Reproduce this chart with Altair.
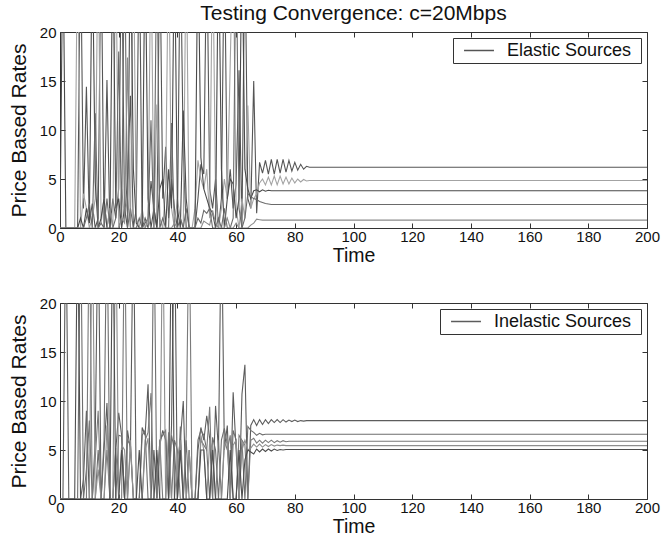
import altair as alt
import pandas as pd

FONT = "Liberation Sans"
TITLE = "Testing Convergence: c=20Mbps"
X_TICKS = [0, 20, 40, 60, 80, 100, 120, 140, 160, 180, 200]
Y_TICKS = [0, 5, 10, 15, 20]
END_T = 200

# Elastic sources (one value per time step; the last value is held until END_T)
E1 = [0, 0, 0, 0, 0, 0, 0, 30, 2, 14.4,
      0.5, 2.5, 0, 1, 30, 0, 15.1, 0, 3, 1,
      4, 30, 1, 5, 13.5, 0, 2, 30, 0, 1,
      0, 4.8, 2, 0, 30, 3, 8.3, 1, 5, 2,
      0, 30, 7.5, 0, 0, 0, 0, 3, 6.5, 5.5,
      30, 4, 2, 5, 0, 3, 30, 3, 6, 2,
      4.5, 16.1, 0, 30, 3, 2, 15, 1.5,
      6.7, 5.6, 6.9, 5.5, 7.0, 5.5, 7.0, 5.6, 7.0, 5.7,
      6.9, 5.8, 6.7, 5.9, 6.5, 6.0, 6.3, 6.2,
      6.2]
E2 = [0, 0, 0, 0, 0, 0, 30, 0, 3.5, 2,
      0, 1, 3, 30, 0.5, 3, 0, 2, 0, 30,
      0, 4, 1, 3, 0, 30, 1, 0, 2, 0,
      0.5, 30, 0, 12.6, 1, 0, 4, 30, 2, 0,
      3, 1, 0, 30, 0, 0, 2, 6.9, 5, 4,
      6, 1, 30, 3.5, 0, 2, 5, 3, 16.8, 30,
      2, 0, 3, 1, 12.5, 2, 3, 3.5,
      4.6, 5.0, 4.4, 5.2, 4.4, 5.3, 4.4, 5.3, 4.5, 5.2,
      4.5, 5.1, 4.6, 5.0, 4.7, 4.95, 4.8, 4.85,
      4.85]
E3 = [0, 30, 0, 0, 0, 0, 0, 1, 0, 2,
      0.5, 30, 4.7, 0, 1, 3, 0, 0, 30, 2,
      3, 0, 2, 0, 30, 6, 0.5, 0, 0, 30,
      3, 0, 2, 0, 4, 5, 0, 6, 2, 30,
      2, 0, 12, 3, 0, 0, 0, 30, 7.2, 4,
      3, 2, 1.5, 0, 30, 6, 0, 3, 5, 4.5,
      1, 3, 30, 6, 4, 3, 3.8, 3.9,
      3.7, 3.9, 3.75, 3.85, 3.8,
      3.8]
E4 = [0, 0, 0, 0, 0, 0, 0, 0, 0, 1,
      2.5, 0, 11.7, 0, 0.5, 0, 3, 0, 0, 1,
      18, 0.5, 30, 0, 2, 0, 0, 1, 0, 0.5,
      1, 11, 0, 30, 0, 1, 0, 0, 10.7, 0,
      0, 1, 0, 2, 0, 0, 0, 1, 0.5, 1.8,
      1.5, 2, 0, 0, 1, 0, 2, 0, 0, 1,
      30, 2, 0, 1, 3.5, 3.2, 3.0, 2.9,
      2.7, 2.6, 2.5, 2.45, 2.4,
      2.4]
E5 = [0, 0, 0, 0, 0, 0, 0, 0, 0, 0,
      0, 0, 0, 0, 0, 0, 0, 2, 0, 0,
      0, 1, 0.5, 17.4, 0, 0, 0, 0, 0, 0,
      1, 0, 0, 0, 0, 0, 0, 0, 0, 0.5,
      0, 0, 0, 0, 0, 0, 0, 0, 0, 0.7,
      0.5, 0.3, 1.8, 0.5, 0, 0, 0, 1, 0, 0,
      0.5, 0, 0, 0, 0, 0.3, 0.5, 0.9,
      0.85, 0.8,
      0.8]

# Inelastic sources
I1 = [0, 0, 30, 0, 0, 0, 0, 0, 2, 9,
      0, 0, 6, 30, 0, 5, 9.8, 0, 0, 5,
      8.8, 6.5, 0, 7, 5, 30, 0, 0, 7.3, 6.5,
      11.7, 0, 5, 0, 5.5, 7, 6, 0, 7.5, 30,
      0, 6, 10, 0, 5, 0, 0, 5, 7.3, 6,
      8.5, 6.2, 0, 9.5, 5, 30, 5, 7.5, 0, 10.9,
      5, 0, 10.7, 13.7, 0, 7.5, 8.1, 7.5, 8.1, 7.6,
      8.1, 7.7, 8.1, 7.8, 8.1, 7.8, 8.1, 7.85, 8.05, 7.9,
      8.05, 7.9, 8.0, 7.95, 8.0,
      8.0]
I2 = [0, 0, 0, 0, 0, 0, 0, 30, 0, 3,
      8, 0, 0, 5, 0, 6, 30, 0, 0, 0,
      6.5, 6.4, 0, 6, 5.5, 0, 0, 0, 6.5, 7,
      0, 0, 30, 0, 6, 6.5, 7, 0, 6.5, 5,
      0, 7.4, 0, 6, 0, 0, 0, 6, 7, 6.5,
      5, 0, 6.3, 5, 0, 6, 7.2, 5.5, 0, 7,
      6, 0, 6, 0, 7.4, 7.0, 6.8, 6.5, 6.7, 6.55,
      6.6,
      6.6]
I3 = [0, 0, 0, 0, 0, 0, 0, 0, 0, 0,
      30, 0, 4, 9, 0, 0, 5, 0, 0, 5.2,
      0, 0, 30, 0, 5.5, 0, 0, 0, 0, 6,
      6.8, 10.8, 0, 0, 6, 0, 0, 6.2, 0, 6,
      5, 0, 0, 6.5, 30, 0, 0, 0, 6, 5.5,
      5, 9.4, 0, 0, 6, 0, 6, 5, 6.5, 0,
      0, 6.5, 6, 5.5, 0, 6.0, 6.2, 5.7, 6.0, 5.7,
      6.0, 5.75, 6.0, 5.75, 5.95, 5.8, 5.95, 5.85, 5.9,
      5.9]
I4 = [0, 0, 0, 0, 0, 0, 0, 0, 0, 0,
      0, 30, 0, 3, 0, 0, 7.5, 0, 0, 30,
      0, 5.5, 5, 0, 6, 0, 0, 0, 0, 5,
      6.2, 0, 0, 0, 0, 30, 0, 6.8, 0, 0,
      4, 6, 0, 0, 5, 0, 0, 0, 6.5, 5,
      0, 6, 5, 0, 0, 0, 5.5, 6, 0, 5.5,
      6, 0, 5, 6, 5, 5.2, 5.6, 5.3, 5.6, 5.3,
      5.55, 5.35, 5.55, 5.4, 5.5, 5.45, 5.5, 5.45,
      5.45]
I5 = [0, 0, 0, 0, 0, 0, 30, 0, 0, 0,
      0, 0, 0, 0, 0, 0, 0, 0, 30, 0,
      0, 5, 0, 0, 0, 0, 0, 5, 0, 0,
      0, 0, 0, 5, 0, 0, 0, 0, 30, 0,
      0, 5, 0, 0, 0, 0, 0, 0, 5, 5,
      0, 0, 5, 0, 0, 0, 0, 0, 5, 0,
      0, 5, 0, 4, 5, 4.8, 4.6, 5.1, 4.8, 5.1,
      4.85, 5.1, 4.9, 5.1, 4.95, 5.05, 5.0, 5.05,
      5.05]

ELASTIC = {"E1": E1, "E2": E2, "E3": E3, "E4": E4, "E5": E5}
INELASTIC = {"I1": I1, "I2": I2, "I3": I3, "I4": I4, "I5": I5}
E_COLORS = ["#555555", "#a3a3a3", "#4a4a4a", "#6a6a6a", "#8c8c8c"]
I_COLORS = ["#5c5c5c", "#6e6e6e", "#7a7a7a", "#8e8e8e", "#4e4e4e"]
NBSP = "\u00a0"


def frame(series):
    rows = []
    for name, vals in series.items():
        n = len(vals)
        for i, v in enumerate(vals):
            rows.append({"Time": i if i < n - 1 else END_T, "Rate": v, "series": name})
    return pd.DataFrame(rows)


XS = alt.Scale(domain=[0, 200], nice=False, zero=False)
YS = alt.Scale(domain=[0, 20], nice=False, zero=False)
TICK = dict(tickSize=5, tickColor="#333333", tickWidth=1, domain=False, grid=False, offset=-5)


def panel(series, colors, label, title=None):
    df = frame(series)
    names = list(series.keys())
    lines = alt.Chart(df).mark_line(clip=True, strokeWidth=1.1).encode(
        x=alt.X("Time:Q", scale=XS, axis=alt.Axis(
            orient="bottom", values=X_TICKS, title="Time", labelPadding=1, labelFlush=False,
            labelFont=FONT, labelFontSize=15, labelColor="#111111",
            titleFont=FONT, titleFontSize=19.5, titleFontWeight="normal", titleColor="#111111",
            titlePadding=2, **TICK)),
        y=alt.Y("Rate:Q", scale=YS, axis=alt.Axis(
            orient="left", values=Y_TICKS, title="Price Based Rates", labelPadding=4,
            labelFont=FONT, labelFontSize=15, labelColor="#111111",
            titleFont=FONT, titleFontSize=21, titleFontWeight="normal", titleColor="#111111",
            titlePadding=10, **TICK)),
        color=alt.Color("series:N", scale=alt.Scale(domain=names, range=colors), legend=alt.Legend(
            values=[names[0]], labelExpr="'" + label + "'",
            title=NBSP, titleOrient="right", titlePadding=7, titleFontSize=1,
            orient="top-right", offset=6, padding=3, strokeColor="#333333", fillColor="white",
            symbolType="M-1.76,0H1.76", symbolSize=289, symbolStrokeWidth=1.5,
            symbolOffset=13.5, labelOffset=18.5,
            labelFont=FONT, labelFontSize=18, labelColor="#111111")),
        detail="series:N",
    )
    box = alt.Chart(df).mark_line(opacity=0, clip=True).encode(
        x=alt.X("Time:Q", scale=XS, axis=alt.Axis(orient="top", values=X_TICKS, labels=False, title=None, **TICK)),
        y=alt.Y("Rate:Q", scale=YS, axis=alt.Axis(orient="right", values=Y_TICKS, labels=False, title=None, **TICK)),
    )
    props = dict(width=587, height=196)
    if title:
        props["title"] = alt.TitleParams(title, font=FONT, fontSize=21, fontWeight="normal",
                                         color="#111111", anchor="middle", offset=1)
    return alt.layer(lines, box).resolve_axis(x="independent", y="independent").properties(**props)


top = panel(ELASTIC, E_COLORS, "Elastic Sources", TITLE)
bottom = panel(INELASTIC, I_COLORS, "Inelastic Sources")

chart = alt.vconcat(top, bottom, spacing=30).resolve_scale(color="independent").resolve_legend(
    color="independent").properties(
    padding={"left": 7, "top": 2, "right": 0, "bottom": 0}
).configure_view(stroke="#333333", strokeWidth=1)

chart.save("out.html", embed_options={"renderer": "svg", "actions": False})
